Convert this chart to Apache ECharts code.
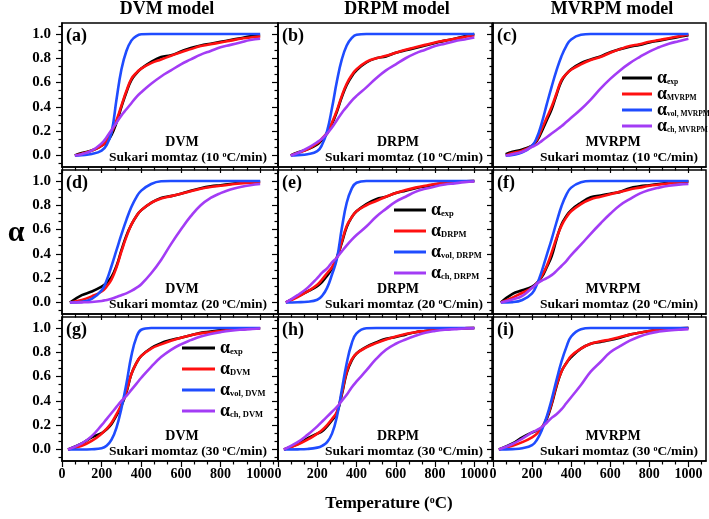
<!DOCTYPE html>
<html><head><meta charset="utf-8">
<script src="https://cdn.jsdelivr.net/npm/echarts@6/dist/echarts.min.js"></script>
<style>html,body{margin:0;padding:0;background:#fff}#c{width:709px;height:519px}</style>
</head><body><div id="c"></div>
<script>
// Temperature grids (°C) for each heating rate row
const T_10 = [65,100,150,200,225,250,275,300,325,350,375,400,450,500,550,600,650,700,750,800,850,900,950,1000];
const T_20 = [40,100,150,200,225,250,275,300,325,350,375,400,450,500,550,600,650,700,750,800,850,900,950,1000];
const T_30 = [30,100,150,200,225,250,275,300,325,350,375,400,450,500,550,600,650,700,750,800,850,900,950,1000];
const xTickLabels = [0,200,400,600,800,1000];
const yTickLabels = [0,0.2,0.4,0.6,0.8,1.0];

// (a) DVM 10 °C/min
const a_exp   = [0,0.02,0.04,0.08,0.11,0.17,0.27,0.40,0.52,0.62,0.675,0.715,0.77,0.81,0.825,0.855,0.885,0.905,0.92,0.935,0.95,0.965,0.98,0.99];
const a_model = [0,0.015,0.04,0.08,0.12,0.19,0.29,0.41,0.53,0.63,0.68,0.715,0.76,0.79,0.82,0.85,0.875,0.90,0.915,0.93,0.945,0.96,0.97,0.98];
const a_vol   = [0,0.003,0.012,0.04,0.085,0.19,0.46,0.71,0.86,0.945,0.982,0.997,1,1,1,1,1,1,1,1,1,1,1,1];
const a_ch    = [0,0.01,0.04,0.10,0.15,0.21,0.27,0.33,0.38,0.43,0.48,0.52,0.59,0.65,0.70,0.75,0.79,0.83,0.86,0.89,0.91,0.93,0.95,0.96];
// (b) DRPM 10 °C/min
const b_exp   = [0,0.025,0.05,0.09,0.13,0.18,0.26,0.36,0.48,0.58,0.65,0.70,0.765,0.80,0.815,0.845,0.865,0.885,0.905,0.925,0.945,0.96,0.98,1.0];
const b_model = [0,0.02,0.05,0.10,0.14,0.19,0.27,0.37,0.49,0.59,0.66,0.71,0.77,0.80,0.82,0.845,0.87,0.89,0.91,0.93,0.945,0.96,0.975,0.99];
const b_vol   = [0,0.003,0.01,0.035,0.09,0.20,0.39,0.61,0.79,0.905,0.965,0.993,1,1,1,1,1,1,1,1,1,1,1,1];
const b_ch    = [0,0.02,0.06,0.11,0.14,0.18,0.23,0.29,0.35,0.40,0.45,0.49,0.56,0.635,0.70,0.75,0.80,0.84,0.87,0.90,0.92,0.94,0.955,0.97];
// (c) MVRPM 10 °C/min
const c_exp   = [0.01,0.03,0.05,0.08,0.12,0.20,0.29,0.38,0.50,0.61,0.67,0.71,0.76,0.79,0.815,0.85,0.875,0.895,0.91,0.93,0.945,0.96,0.975,0.99];
const c_model = [0,0.02,0.04,0.08,0.13,0.22,0.31,0.40,0.51,0.62,0.67,0.705,0.75,0.785,0.81,0.845,0.875,0.90,0.915,0.935,0.95,0.965,0.98,0.995];
const c_vol   = [0,0.005,0.025,0.08,0.15,0.27,0.42,0.565,0.70,0.815,0.90,0.955,0.993,1,1,1,1,1,1,1,1,1,1,1];
const c_ch    = [0,0.01,0.03,0.07,0.09,0.12,0.15,0.18,0.21,0.24,0.275,0.31,0.38,0.46,0.55,0.63,0.70,0.76,0.81,0.855,0.89,0.92,0.94,0.96];
// (d) DVM 20 °C/min
const d_exp   = [0,0.06,0.09,0.13,0.16,0.21,0.30,0.43,0.55,0.64,0.71,0.76,0.82,0.86,0.875,0.895,0.92,0.94,0.955,0.965,0.975,0.985,0.99,0.995];
const d_model = [0,0.02,0.05,0.09,0.13,0.19,0.29,0.42,0.54,0.64,0.71,0.76,0.82,0.855,0.875,0.895,0.915,0.935,0.95,0.96,0.97,0.98,0.985,0.99];
const d_vol   = [0,0.005,0.03,0.10,0.18,0.30,0.43,0.56,0.68,0.785,0.865,0.92,0.975,0.997,1,1,1,1,1,1,1,1,1,1];
const d_ch    = [0,0.001,0.004,0.012,0.02,0.03,0.045,0.06,0.075,0.095,0.12,0.15,0.24,0.35,0.48,0.60,0.71,0.80,0.86,0.90,0.93,0.95,0.965,0.975];
// (e) DRPM 20 °C/min
const e_exp   = [0,0.05,0.09,0.135,0.17,0.22,0.28,0.37,0.49,0.62,0.70,0.75,0.81,0.85,0.87,0.90,0.92,0.94,0.955,0.97,0.98,0.99,0.995,1.0];
const e_model = [0,0.045,0.09,0.145,0.19,0.24,0.29,0.37,0.50,0.63,0.70,0.75,0.80,0.835,0.87,0.90,0.925,0.945,0.96,0.975,0.985,0.99,0.995,1.0];
const e_vol   = [0,0.002,0.006,0.022,0.055,0.12,0.23,0.36,0.61,0.82,0.935,0.985,1,1,1,1,1,1,1,1,1,1,1,1];
const e_ch    = [0,0.06,0.12,0.20,0.245,0.28,0.33,0.37,0.42,0.47,0.515,0.555,0.625,0.705,0.77,0.83,0.87,0.91,0.935,0.955,0.97,0.98,0.99,0.995];
// (f) MVRPM 20 °C/min
const f_exp   = [0,0.07,0.10,0.13,0.16,0.21,0.29,0.38,0.52,0.64,0.71,0.76,0.82,0.865,0.88,0.895,0.91,0.94,0.955,0.965,0.975,0.985,0.99,0.995];
const f_model = [0,0.04,0.08,0.12,0.16,0.22,0.30,0.41,0.53,0.63,0.70,0.75,0.81,0.85,0.87,0.89,0.91,0.93,0.945,0.96,0.97,0.98,0.99,0.995];
const f_vol   = [0,0.003,0.02,0.075,0.15,0.26,0.39,0.52,0.66,0.79,0.885,0.945,0.99,1,1,1,1,1,1,1,1,1,1,1];
const f_ch    = [0,0.025,0.055,0.12,0.155,0.18,0.20,0.225,0.26,0.30,0.34,0.39,0.475,0.565,0.65,0.73,0.80,0.85,0.895,0.925,0.945,0.96,0.97,0.975];
// (g) DVM 30 °C/min
const g_exp   = [0,0.05,0.10,0.135,0.165,0.21,0.28,0.36,0.47,0.62,0.71,0.77,0.835,0.875,0.90,0.92,0.94,0.96,0.97,0.98,0.985,0.99,0.995,0.997];
const g_model = [0,0.03,0.07,0.13,0.17,0.22,0.29,0.37,0.48,0.62,0.71,0.77,0.83,0.865,0.895,0.92,0.94,0.955,0.965,0.975,0.985,0.99,0.995,0.997];
const g_vol   = [0,0,0.002,0.01,0.03,0.08,0.18,0.34,0.54,0.77,0.92,0.985,1,1,1,1,1,1,1,1,1,1,1,1];
const g_ch    = [0,0.05,0.11,0.20,0.25,0.30,0.35,0.40,0.44,0.49,0.54,0.59,0.68,0.76,0.82,0.865,0.90,0.93,0.95,0.965,0.977,0.985,0.99,0.995];
// (h) DRPM 30 °C/min
const h_exp   = [0,0.045,0.09,0.13,0.15,0.19,0.24,0.30,0.45,0.63,0.73,0.79,0.845,0.88,0.91,0.925,0.945,0.965,0.975,0.985,0.99,0.995,0.997,1.0];
const h_model = [0,0.04,0.08,0.13,0.16,0.20,0.25,0.31,0.46,0.64,0.74,0.79,0.84,0.875,0.905,0.93,0.95,0.965,0.975,0.985,0.99,0.995,0.998,1.0];
const h_vol   = [0,0.001,0.004,0.015,0.03,0.06,0.13,0.27,0.49,0.71,0.87,0.955,0.998,1,1,1,1,1,1,1,1,1,1,1];
const h_ch    = [0,0.06,0.12,0.19,0.23,0.27,0.31,0.35,0.40,0.45,0.51,0.56,0.65,0.745,0.82,0.87,0.905,0.935,0.96,0.975,0.985,0.99,0.995,0.997];
// (i) MVRPM 30 °C/min
const i_exp   = [0,0.05,0.10,0.14,0.155,0.18,0.25,0.37,0.52,0.64,0.71,0.76,0.83,0.87,0.885,0.90,0.92,0.945,0.96,0.975,0.985,0.99,0.995,1.0];
const i_model = [0,0.03,0.06,0.10,0.13,0.18,0.26,0.38,0.53,0.64,0.71,0.77,0.83,0.87,0.89,0.905,0.925,0.945,0.96,0.975,0.985,0.99,0.995,1.0];
const i_vol   = [0,0.003,0.01,0.035,0.08,0.16,0.27,0.41,0.57,0.72,0.84,0.93,0.99,1,1,1,1,1,1,1,1,1,1,1];
const i_ch    = [0,0.045,0.09,0.14,0.16,0.185,0.22,0.26,0.29,0.33,0.38,0.43,0.53,0.64,0.72,0.80,0.85,0.895,0.93,0.955,0.97,0.98,0.985,0.99];

const models = ['DVM','DRPM','MVRPM'];
const rates = ['10','20','30'];
const panelLabels = ['(a)','(b)','(c)','(d)','(e)','(f)','(g)','(h)','(i)'];
const panelData = [
  [T_10,a_exp,a_model,a_vol,a_ch],[T_10,b_exp,b_model,b_vol,b_ch],[T_10,c_exp,c_model,c_vol,c_ch],
  [T_20,d_exp,d_model,d_vol,d_ch],[T_20,e_exp,e_model,e_vol,e_ch],[T_20,f_exp,f_model,f_vol,f_ch],
  [T_30,g_exp,g_model,g_vol,g_ch],[T_30,h_exp,h_model,h_vol,h_ch],[T_30,i_exp,i_model,i_vol,i_ch]
];

const FONT = "'Liberation Serif','Times New Roman',serif";
const COLORS = ['#000000','#ff1010','#1f4cff','#a33cf5'];
const colLeft = [62,278,493], colW = [216,214,213], rowTop = [23,170,317], H = 144;
const X_MAX = 1090, Y_MIN = -0.095, Y_MAX = 1.09;
const minorX = []; for (let k = 1; k <= 16; k++) if (k % 3) minorX.push(k * 200 / 3);
const minorY = []; for (let k = -1; k <= 16; k++) if (k % 3) minorY.push(k / 15);

const grids = [], xAxes = [], yAxes = [], series = [], graphic = [];
const tickStyle = {color:'#000', width:1.2};
for (let p = 0; p < 9; p++) {
  const r = Math.floor(p / 3), c = p % 3;
  grids.push({left: colLeft[c], top: rowTop[r], width: colW[c], height: H, show: true,
    borderColor: '#000', borderWidth: 1.5, backgroundColor: 'transparent'});
  xAxes.push({gridIndex: p, type: 'value', position: 'bottom', min: 0, max: X_MAX,
    axisLine: {show: true, onZero: false, lineStyle: {color: '#000', width: 1.5}},
    axisTick: {show: true, inside: false, length: 6, customValues: xTickLabels, lineStyle: tickStyle},
    axisLabel: {show: r === 2, customValues: xTickLabels, margin: 6, color: '#000',
      fontFamily: FONT, fontWeight: 'bold', fontSize: 14, formatter: v => String(v)},
    splitLine: {show: false}});
  xAxes.push({gridIndex: p, type: 'value', position: 'bottom', min: 0, max: X_MAX,
    axisLine: {show: false, onZero: false}, axisTick: {show: true, inside: false, length: 3.5, customValues: minorX, lineStyle: tickStyle},
    axisLabel: {show: false}, splitLine: {show: false}});
  yAxes.push({gridIndex: p, type: 'value', position: 'left', min: Y_MIN, max: Y_MAX,
    axisLine: {show: true, onZero: false, lineStyle: {color: '#000', width: 1.5}},
    axisTick: {show: true, inside: false, length: 6, customValues: yTickLabels, lineStyle: tickStyle},
    axisLabel: {show: c === 0, customValues: yTickLabels, margin: 11, color: '#000',
      fontFamily: FONT, fontWeight: 'bold', fontSize: 15, formatter: v => v.toFixed(1)},
    splitLine: {show: false}});
  yAxes.push({gridIndex: p, type: 'value', position: 'left', min: Y_MIN, max: Y_MAX,
    axisLine: {show: false, onZero: false}, axisTick: {show: true, inside: false, length: 3.5, customValues: minorY, lineStyle: tickStyle},
    axisLabel: {show: false}, splitLine: {show: false}});
  const [T, ...curves] = panelData[p];
  const m = models[c];
  const names = ['exp', m, 'vol, ' + m, 'ch, ' + m];
  curves.forEach((vals, k) => {
    series.push({type: 'line', name: names[k], xAxisIndex: 2 * p, yAxisIndex: 2 * p,
      data: T.map((t, i) => [t, vals[i]]), showSymbol: false, symbol: 'none',
      smooth: 0.45, color: COLORS[k],
      lineStyle: {width: 2.6, color: COLORS[k]}, silent: true, z: 2 + k});
  });
  graphic.push({type: 'text', x: colLeft[c] + 4, y: rowTop[r] + 4,
    style: {text: panelLabels[p], fontFamily: FONT, fontWeight: 'bold', fontSize: 18, fill: '#000', align: 'left', verticalAlign: 'top'}});
  graphic.push({type: 'text', x: colLeft[c] + 120, y: rowTop[r] + H - 25,
    style: {text: m, fontFamily: FONT, fontWeight: 'bold', fontSize: 14, fill: '#000', align: 'center', verticalAlign: 'middle'}});
  graphic.push({type: 'text', x: colLeft[c] + 126, y: rowTop[r] + H - 9,
    style: {text: '{n|Sukari momtaz (' + rates[r] + ' }{s|o}{n|C/min)}', align: 'center', verticalAlign: 'middle',
      rich: {n: {fontFamily: FONT, fontWeight: 'bold', fontSize: 13.5, fill: '#000', lineHeight: 14},
             s: {fontFamily: FONT, fontWeight: 'bold', fontSize: 8, fill: '#000', lineHeight: 8, verticalAlign: 'top'}}}});
}
// Column titles
const titleX = [167, 397, 612];
models.forEach((m, c) => graphic.push({type: 'text', x: titleX[c], y: 9,
  style: {text: m + ' model', fontFamily: FONT, fontWeight: 'bold', fontSize: 18, fill: '#000', align: 'center', verticalAlign: 'middle'}}));
// axis titles
graphic.push({type: 'text', x: 16, y: 233,
  style: {text: 'α', fontFamily: FONT, fontWeight: 'bold', fontSize: 30, fill: '#000', align: 'center', verticalAlign: 'middle'}});
graphic.push({type: 'text', x: 389, y: 504,
  style: {text: '{n|Temperature (}{s|o}{n|C)}', align: 'center', verticalAlign: 'middle',
    rich: {n: {fontFamily: FONT, fontWeight: 'bold', fontSize: 17, fill: '#000', lineHeight: 17},
           s: {fontFamily: FONT, fontWeight: 'bold', fontSize: 10, fill: '#000', lineHeight: 10, verticalAlign: 'top'}}}});

function mkLegend(model, left, top, gap, w, subSize) {
  return {show: true, orient: 'vertical', left: left, top: top, padding: 0, itemGap: gap,
    itemWidth: w, itemHeight: 3, icon: 'rect', selectedMode: false,
    data: ['exp', model, 'vol, ' + model, 'ch, ' + model],
    formatter: n => '{a|α}{s|' + n + '}',
    textStyle: {rich: {
      a: {fontFamily: FONT, fontWeight: 'bold', fontSize: 18, color: '#000', lineHeight: 16},
      s: {fontFamily: FONT, fontWeight: 'bold', fontSize: subSize, color: '#000', lineHeight: subSize, verticalAlign: 'bottom'}}}};
}
const legends = [mkLegend('MVRPM', 622, 69, -2, 30, 7.5), mkLegend('DRPM', 394, 201, 3, 32, 8.5), mkLegend('DVM', 182, 339, 3, 33, 8.5)];

const chart = echarts.init(document.getElementById('c'), null, {renderer: 'canvas'});
chart.setOption({backgroundColor: '#fff', animation: false, grid: grids, xAxis: xAxes, yAxis: yAxes,
  series: series, legend: legends, graphic: graphic});
</script></body></html>
